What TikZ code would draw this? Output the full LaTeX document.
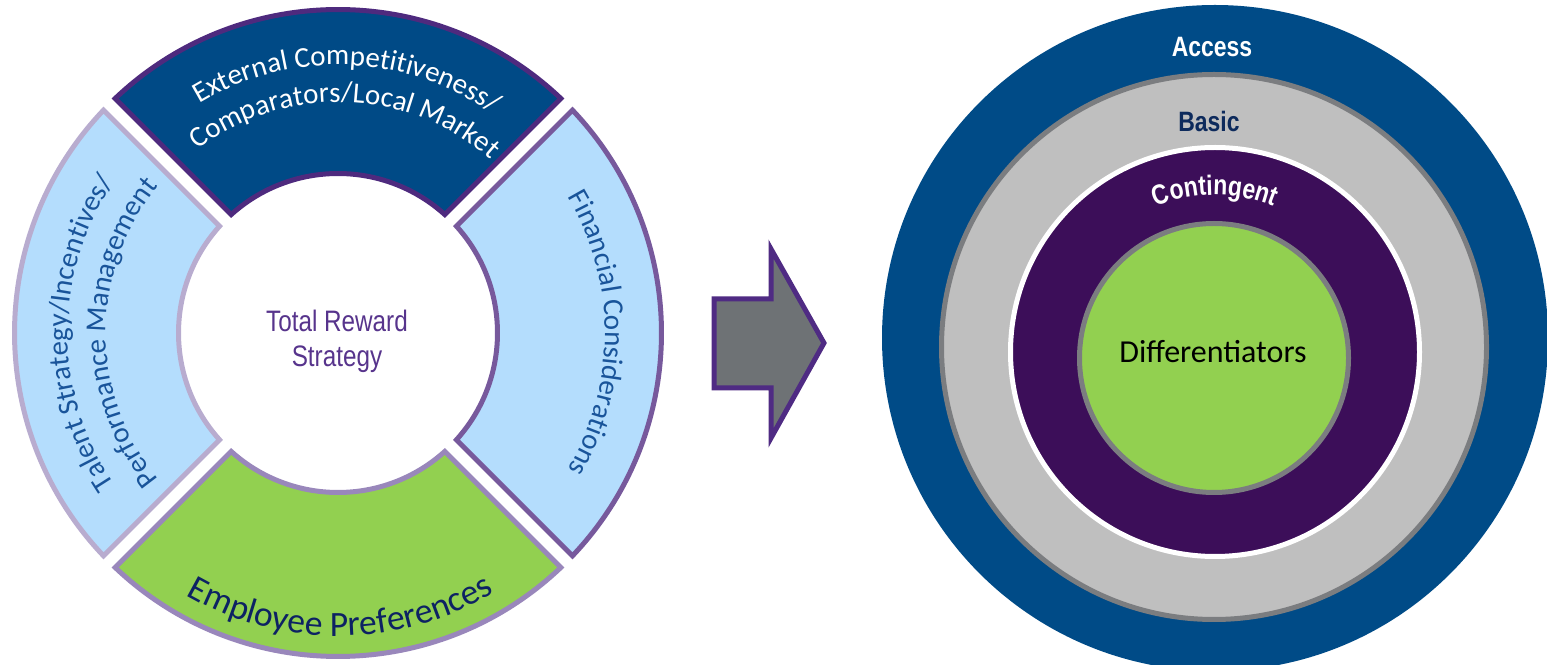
\documentclass[tikz,border=0pt]{standalone}
\usepackage{fontspec}
\setmainfont{Carlito}
\newfontfamily\narrowfont[FakeStretch=0.82]{Liberation Sans}
\usetikzlibrary{positioning, calc, decorations.text}

\definecolor{navyfill}{HTML}{004A86}
\definecolor{skyfill}{HTML}{B4DDFD}
\definecolor{leaffill}{HTML}{92D050}
\definecolor{darkrim}{HTML}{4E2A7E}
\definecolor{palerim}{HTML}{B8ACCF}
\definecolor{plumrim}{HTML}{77599C}
\definecolor{lilacrim}{HTML}{9987BB}
\definecolor{segtext}{HTML}{19549A}
\definecolor{deepnavy}{HTML}{0D2263}
\definecolor{plumtext}{HTML}{57348C}
\definecolor{arrowgray}{HTML}{6E7275}
\definecolor{arrowrim}{HTML}{4F2B83}
\definecolor{accessblue}{HTML}{004B87}
\definecolor{basicgray}{HTML}{BFBFBF}
\definecolor{rimgray}{HTML}{7B7D80}
\definecolor{contpurple}{HTML}{3C0E59}
\definecolor{basicnavy}{HTML}{0D2A5C}

\newcommand{\segfont}{\fontsize{14.5}{17}\selectfont}
\newcommand{\prefont}{\fontsize{17.8}{20}\selectfont}
\newcommand{\tierfont}{\narrowfont\bfseries\fontsize{14}{16}\selectfont}

% one quarter of the ring, starting at angle #1
\newcommand{\ringseg}[3]{%
  \pgfmathsetmacro\segoa{#1+1.45}\pgfmathsetmacro\segob{#1+88.55}%
  \pgfmathsetmacro\segia{#1+87.05}\pgfmathsetmacro\segib{#1+2.95}%
  \filldraw[seg, fill=#2, draw=#3]
    ($(ring)+(\segoa:323.5)$) arc[start angle=\segoa, end angle=\segob, radius=323.5]
    -- ($(ring)+(\segia:159.5)$) arc[start angle=\segia, end angle=\segib, radius=159.5] -- cycle;}

% text bent along an arc round #1
\newcommand{\arctext}[7]{%
  \path[decorate, decoration={text along path, text align=center,
      text color=#5, text={|#6|#7}}]
    ($(#1)+(#3:#2)$) arc[start angle=#3, end angle=#4, radius=#2];}

\begin{document}
\begin{tikzpicture}[x=0.5pt, y=0.5pt,
    seg/.style={line width=2.5pt},
    disc/.style={line width=2.5pt}
  ]
  \useasboundingbox (0,0) rectangle (1547,664);
  \coordinate (ring) at (338,331);

  % Reward ring
  \ringseg{45}{navyfill}{darkrim}
  \ringseg{135}{skyfill}{palerim}
  \ringseg{225}{leaffill}{lilacrim}
  \ringseg{-45}{skyfill}{plumrim}
  \node[font=\narrowfont\fontsize{14.8}{17.5}\selectfont, text=plumtext, align=center] (trs) at (337,323) {Total Reward\\Strategy};

  \arctext{ring}{268}{148}{28}{white}{\segfont}{External Competitiveness/}
  \arctext{ring}{231}{148}{28}{white}{\segfont}{Comparators/Local Market}
  \arctext{ring}{270}{240}{120}{segtext}{\segfont}{Talent Strategy/Incentives/}
  \arctext{ring}{232}{240}{120}{segtext}{\segfont}{Performance Management}
  \arctext{ring}{267}{60}{-60}{segtext}{\segfont}{Financial Considerations}
  \arctext{ring}{303}{200.5}{340.5}{deepnavy}{\prefont}{Employee Preferences}

  % Arrow
  \draw[disc, fill=arrowgray, draw=arrowrim] (714,276) -- (714,365) -- (771,365) -- (771,415)
    -- (824,321) -- (771,226) -- (771,276) -- cycle;

  % Tiers
  \begin{scope}
    \clip (0,0) rectangle (1547,664);
    \fill[accessblue] (1215,326) circle[radius=333];
  \end{scope}
  \draw[disc, fill=basicgray, draw=rimgray] (1214,317) circle[radius=272.5];
  \draw[disc, fill=contpurple, draw=white] (1215,312) circle[radius=204.5];
  \draw[disc, fill=leaffill, draw=rimgray] (1214,306) circle[radius=134.5];

  \node[font=\tierfont, text=white] (access) at (1212,617) {Access};
  \node[font=\tierfont, text=basicnavy] (basic) at (1209,543) {Basic};
  \coordinate (core) at (1215,312);
  \arctext{core}{157}{140}{40}{white}{\tierfont}{Contingent}
  \node[font=\fontsize{16}{19}\selectfont] (diff) at (1213,312) {Differentiators};
\end{tikzpicture}
\end{document}
